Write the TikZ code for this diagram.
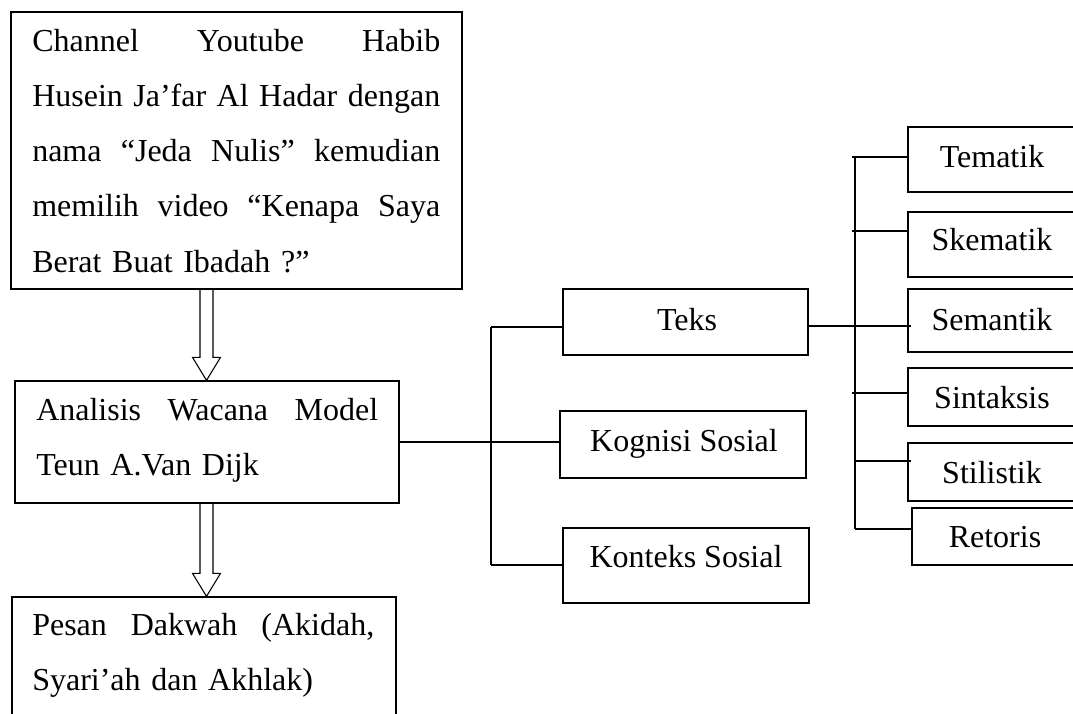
\documentclass[tikz,border=0pt]{standalone}
\usepackage{fontspec}
\setmainfont{Liberation Serif}
\usetikzlibrary{calc,fit}
\newcommand\hollowarr[2]{%
  \draw[conn] ($(#1)+(-6.5,0)$) -- ($(#2)+(-6.5,-23)$) -- ($(#2)+(-14,-23)$) -- (#2)
    -- ($(#2)+(14,-23)$) -- ($(#2)+(6.5,-23)$) -- ($(#1)+(6.5,0)$);}
\newcommand\jline[2]{\makebox[#1][s]{\spaceskip=0pt\relax\xspaceskip=0pt\relax #2}}
\begin{document}
\begin{tikzpicture}[x=0.75pt,y=-0.75pt,
  box/.style={draw, line width=0.95pt, inner sep=0pt},
  conn/.style={line width=0.8pt},
  txt/.style={font=\fontsize{24}{41.25}\selectfont, inner sep=0pt},
]
\useasboundingbox (0,0) rectangle (1073,713);
\fill[white] (0,0) rectangle (1073,713);
\clip (0,0) rectangle (1073,713);

% left column boxes
\node[box, fit={(11,12) (462,289)}] (b1) {};
\node[box, fit={(15,381) (399,503)}] (b2) {};
\node[box, fit={(12,597) (396,745)}] (b3) {};

\node[txt, anchor=base west, text width=306pt] (t1) at (32,52)
  {\jline{306pt}{Channel Youtube Habib}\newline
   \jline{306pt}{Husein Ja’far Al Hadar dengan}\newline
   \jline{306pt}{nama “Jeda Nulis” kemudian}\newline
   \jline{306pt}{memilih video “Kenapa Saya}\newline
   Berat Buat Ibadah ?”};
\node[txt, anchor=base west, text width=256.5pt] (t2) at (36,420)
  {\jline{256.5pt}{Analisis Wacana Model}\newline
   Teun A.Van Dijk};
\node[txt, anchor=base west, text width=256.5pt] (t3) at (32,635)
  {\jline{256.5pt}{Pesan Dakwah (Akidah,}\newline
   Syari’ah dan Akhlak)};

% hollow arrows
\coordinate (a1s) at (206.5,0 |- b1.south);
\coordinate (a1e) at (206.5,0 |- b2.north);
\coordinate (a2s) at (206.5,0 |- b2.south);
\coordinate (a2e) at (206.5,0 |- b3.north);
\hollowarr{a1s}{a1e}
\hollowarr{a2s}{a2e}

% middle boxes
\node[box, fit={(563,289) (808,355)}] (teks) {};
\node[box, fit={(560,411) (806,478)}] (kog) {};
\node[box, fit={(563,528) (809,603)}] (kon) {};
\node[txt, anchor=base] (tteks) at (687,330) {Teks};
\node[txt, anchor=base] (tkog) at (684,451) {Kognisi Sosial};
\node[txt, anchor=base] (tkon) at (686,567) {Konteks Sosial};

% right boxes
\node[box, fit={(908,127) (1076,192)}] (tem) {};
\node[box, fit={(908,212) (1076,277)}] (ske) {};
\node[box, fit={(908,289) (1076,352)}] (sem) {};
\node[box, fit={(908,368) (1076,426)}] (sin) {};
\node[box, fit={(908,443) (1076,501)}] (sti) {};
\node[box, fit={(912,508) (1080,565)}] (ret) {};
\node[txt, anchor=base] (ttem) at (992,167) {Tematik};
\node[txt, anchor=base] (tske) at (992,250) {Skematik};
\node[txt, anchor=base] (tsem) at (992,330) {Semantik};
\node[txt, anchor=base] (tsin) at (992,408) {Sintaksis};
\node[txt, anchor=base] (tsti) at (992,483) {Stilistik};
\node[txt, anchor=base] (tret) at (995,547) {Retoris};

% middle connectors
\draw[conn] (b2.east) -- (b2.east -| kog.west);
\coordinate (mt) at (491,327);
\coordinate (mb) at (491,565);
\draw[conn] (mt) -- (mb);
\draw[conn] (mt) -- (mt -| teks.west);
\draw[conn] (mb) -- (mb -| kon.west);

% right connectors
\coordinate (rt) at (855,157);
\coordinate (rb) at (855,529);
\draw[conn] (rt) -- (rb);
\coordinate (r1) at (852,157);
\coordinate (r2) at (852,231);
\coordinate (r3) at (teks.east |- 0,326);
\coordinate (r4) at (852,393);
\coordinate (r5) at (855,461);
\draw[conn] (r1) -- (r1 -| tem.west);
\draw[conn] (r2) -- (r2 -| ske.west);
\draw[conn] (r3) -- ($(r3 -| sem.west)+(4,0)$);
\draw[conn] (r4) -- (r4 -| sin.west);
\draw[conn] (r5) -- ($(r5 -| sti.west)+(4,0)$);
\draw[conn] (rb) -- (rb -| ret.west);
\end{tikzpicture}
\end{document}
